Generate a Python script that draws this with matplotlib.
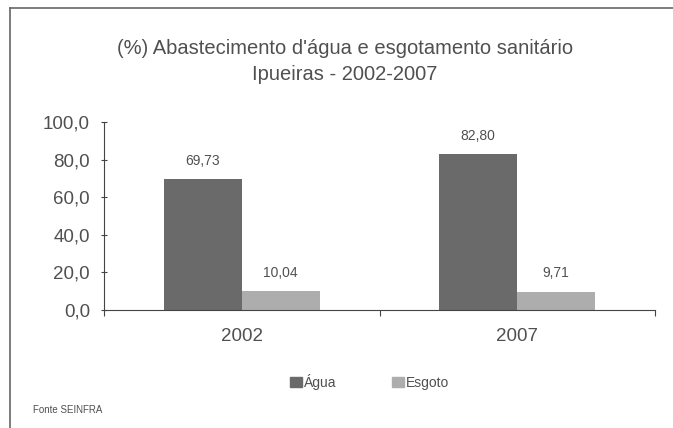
import matplotlib
matplotlib.use("Agg")
import matplotlib.pyplot as plt
import numpy as np
from matplotlib.lines import Line2D

plt.rcParams['font.family'] = ['Liberation Sans', 'DejaVu Sans']

years = ["2002", "2007"]
agua = [69.73, 82.80]
esgoto = [10.04, 9.71]
agua_labels = ["69,73", "82,80"]
esgoto_labels = ["10,04", "9,71"]
yticks = [0, 20, 40, 60, 80, 100]
ytick_labels = ["0,0", "20,0", "40,0", "60,0", "80,0", "100,0"]

c_agua = "#6a6a6a"
c_esg = "#adadad"
txt = "#505050"

fig = plt.figure(figsize=(6.73, 4.28), dpi=100)
fig.patch.set_facecolor("white")
ax = fig.add_axes([104/673, 1-310/428, (655-104)/673, (310-122)/428])

x = np.arange(len(years))
w = 0.283
b1 = ax.bar(x - w/2, agua, w, color=c_agua, label="Água")
b2 = ax.bar(x + w/2, esgoto, w, color=c_esg, label="Esgoto")
for rect, lab in zip(list(b1) + list(b2), agua_labels + esgoto_labels):
    ax.text(rect.get_x() + rect.get_width()/2, rect.get_height() + 6, lab,
            ha="center", va="bottom", fontsize=10, color=txt)

ax.set_xlim(-0.5, 1.5)
ax.set_ylim(0, 100)
ax.set_yticks(yticks)
ax.set_yticklabels(ytick_labels, fontsize=13.5, color=txt)
ax.set_xticks([-0.5, 0.5, 1.5], minor=False)
ax.set_xticklabels(["", "", ""])
ax.set_xticks(x, minor=True)
ax.set_xticklabels(years, minor=True, fontsize=13.5, color=txt)
ax.tick_params(axis="x", which="minor", length=0, pad=13)
ax.tick_params(axis="x", which="major", length=4, color="#444", direction="out")
ax.tick_params(axis="y", length=4, color="#444", direction="inout", pad=8)
for s in ["top", "right"]:
    ax.spines[s].set_visible(False)
ax.spines["left"].set_color("#444")
ax.spines["bottom"].set_color("#444")

fig.text(345/673, 1-48/428, "(%) Abastecimento d'água e esgotamento sanitário",
         ha="center", va="center", fontsize=14.5, color=txt)
fig.text(345/673, 1-75/428, "Ipueiras - 2002-2007",
         ha="center", va="center", fontsize=14.5, color=txt)

handles = [plt.Rectangle((0, 0), 1, 1, color=c_agua), plt.Rectangle((0, 0), 1, 1, color=c_esg)]
fig.legend(handles, ["Água", "Esgoto"], loc="center", bbox_to_anchor=(370/673, 1-382/428),
           ncol=2, frameon=False, fontsize=10, handlelength=0.8, handleheight=0.8,
           handletextpad=0.2, columnspacing=4.0, labelcolor=txt)

fig.text(33/673, 1-410/428, "Fonte SEINFRA", ha="left", va="center", fontsize=7, color=txt)

fig.add_artist(Line2D([10/673, 1], [1-8/428, 1-8/428], color="#666", lw=1.2))
fig.add_artist(Line2D([10/673, 10/673], [0, 1-8/428], color="#666", lw=1.2))

fig.savefig("out.png", dpi=100)
